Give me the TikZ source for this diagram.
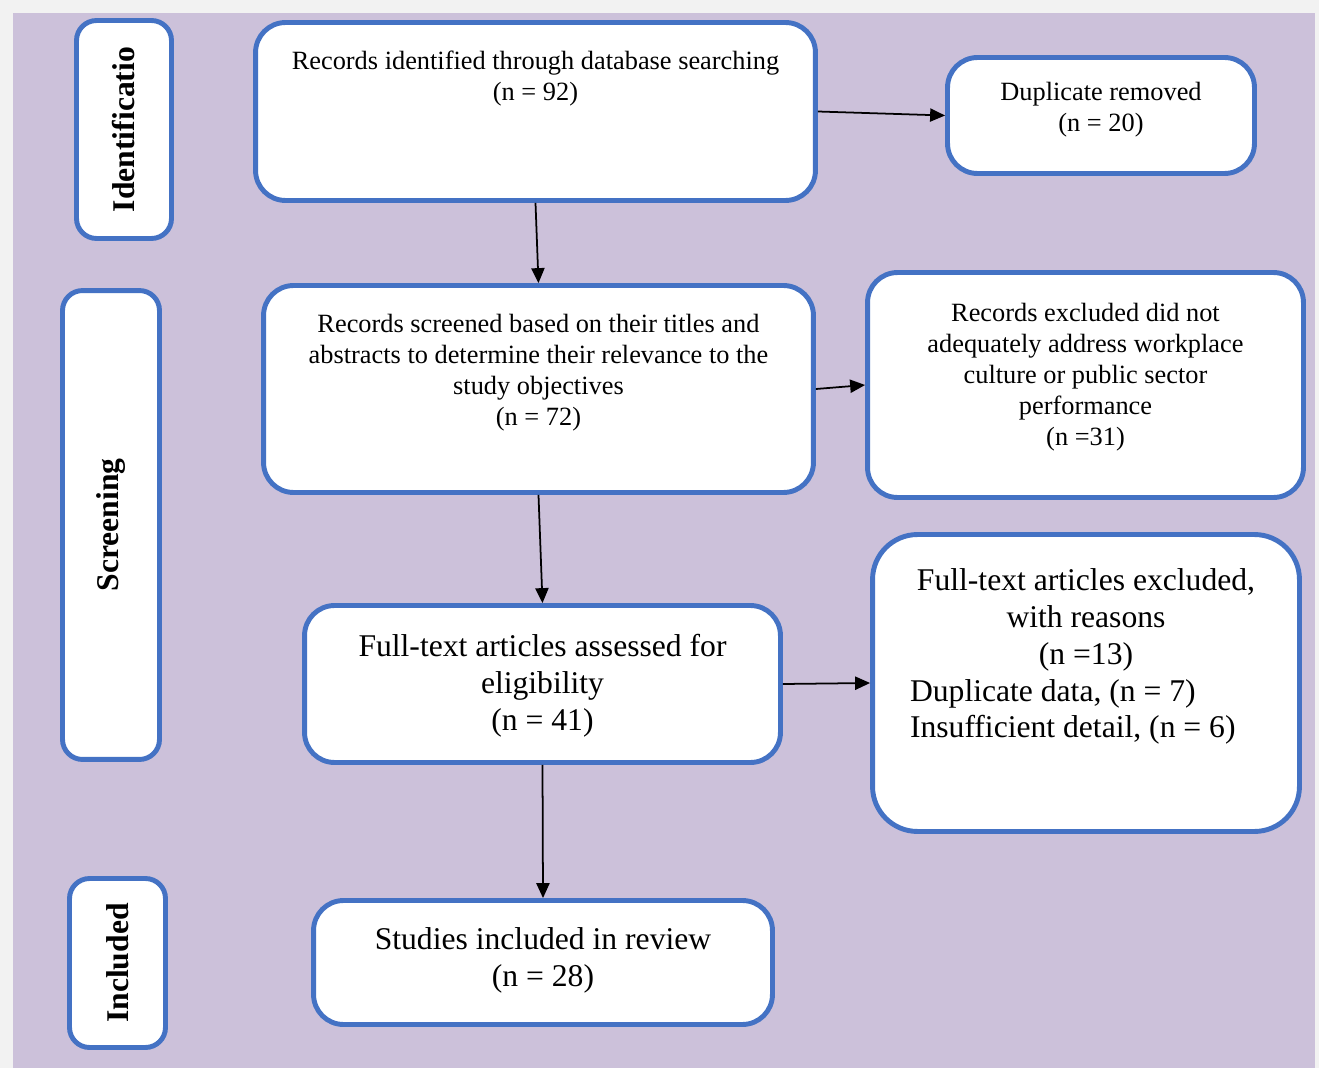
\documentclass[tikz,border=0pt]{standalone}
\usepackage{fontspec}
\setmainfont{Liberation Serif}
\usepackage{tikz}
\usetikzlibrary{arrows.meta}
\definecolor{bgpurple}{HTML}{CCC1DA}
\definecolor{bggray}{HTML}{F2F2F2}
\definecolor{boxblue}{HTML}{4472C4}

\begin{document}
\begin{tikzpicture}[x=0.02cm, y=-0.02cm,
    flowbox/.style={draw=boxblue, line width=2.8pt, fill=white, rounded corners=0.6cm},
    sidebox/.style={draw=boxblue, line width=2.8pt, fill=white, rounded corners=0.4cm,
        rotate=90, font=\fontsize{18}{21}\selectfont\bfseries},
    smalltxt/.style={align=center, font=\fontsize{15}{17.6}\selectfont},
    bigtxt/.style={align=center, font=\fontsize{18}{21}\selectfont},
    flowarrow/.style={line width=1pt, -{Triangle[length=8.5pt,width=7.5pt]}}]
    \useasboundingbox (0,0) rectangle (1319,1068);
    \fill[bggray] (0,0) rectangle (1319,1068);
    \fill[bgpurple] (13,13) rectangle (1315,1068);

    % stage labels on the left
    \node[sidebox, minimum width=4.36cm, minimum height=1.9cm] (sideid) at (124,129.5) {Identificatio};
    \node[sidebox, minimum width=9.38cm, minimum height=1.94cm] (sidescr) at (111,525) {Screening};
    \node[sidebox, minimum width=3.38cm, minimum height=1.92cm] (sideinc) at (117.5,963) {Included};

    % boxes
    \node[flowbox, minimum width=11.2cm, minimum height=3.56cm] (records) at (535.5,111.5) {};
    \node[flowbox, minimum width=6.14cm, minimum height=2.32cm] (dup) at (1101,115.5) {};
    \node[flowbox, minimum width=11cm, minimum height=4.14cm] (screened) at (538.5,389) {};
    \node[flowbox, minimum width=8.72cm, minimum height=4.5cm] (excl) at (1085.5,385) {};
    \node[flowbox, minimum width=9.52cm, minimum height=3.14cm] (fulltext) at (542.5,684) {};
    \node[flowbox, rounded corners=0.9cm, minimum width=8.54cm, minimum height=5.94cm] (ftexcl) at (1086,683) {};
    \node[flowbox, minimum width=9.18cm, minimum height=2.48cm] (included) at (543,962.5) {};

    % texts
    \node[smalltxt] (recordstxt) at ([yshift=0.66cm]records.center) {Records identified through database searching\\(n = 92)};
    \node[smalltxt] (duptxt) at ([yshift=0.12cm]dup.center) {Duplicate removed\\(n = 20)};
    \node[smalltxt] (screenedtxt) at ([yshift=0.33cm]screened.center) {Records screened based on their titles and\\abstracts to determine their relevance to the\\study objectives\\(n = 72)};
    \node[smalltxt] (excltxt) at ([yshift=0.16cm]excl.center) {Records excluded did not\\adequately address workplace\\culture or public sector\\performance\\(n =31)};
    \node[bigtxt] (fulltexttxt) at ([yshift=-0.03cm]fulltext.center) {Full-text articles assessed for\\eligibility\\(n = 41)};
    \node[bigtxt, text width=7.04cm, align=flush left] (ftexcltxt) at ([yshift=0.53cm]ftexcl.center)
        {\centering Full-text articles excluded,\\with reasons\\(n =13)\par
         \raggedright\noindent Duplicate data, (n = 7)\\Insufficient detail, (n = 6)};
    \node[bigtxt] (includedtxt) at ([yshift=0.04cm]included.center) {Studies included in review\\(n = 28)};

    % arrows
    \draw[flowarrow] (records.east) -- (dup.west);
    \draw[flowarrow] (records.south) -- (screened.north);
    \draw[flowarrow] (screened.east) -- (excl.west);
    \draw[flowarrow] (screened.south) -- (fulltext.north);
    \draw[flowarrow] (fulltext.east) -- (ftexcl.west);
    \draw[flowarrow] (fulltext.south) -- (included.north);
\end{tikzpicture}
\end{document}
